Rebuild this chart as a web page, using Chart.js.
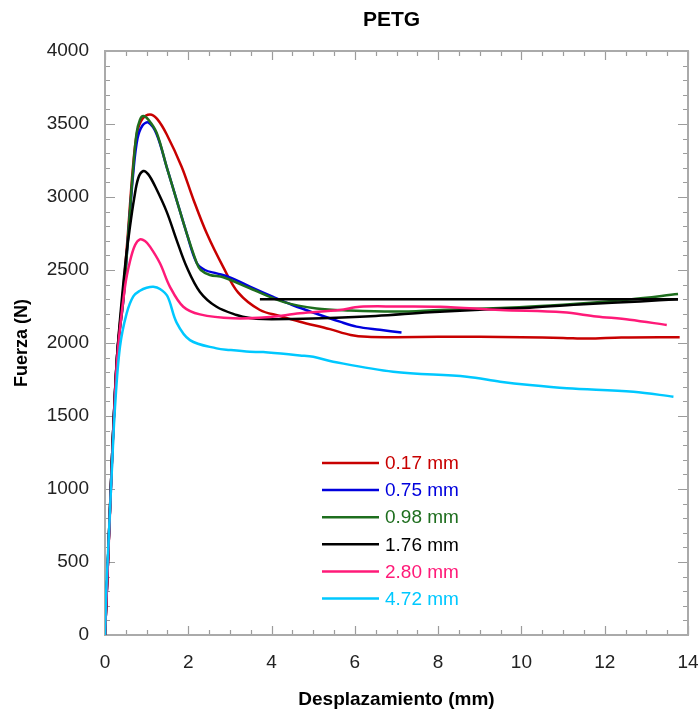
<!DOCTYPE html>
<html lang="es">
<head>
<meta charset="utf-8">
<title>PETG</title>
<script src="https://cdn.jsdelivr.net/npm/chart.js@4.4.1/dist/chart.umd.min.js"></script>
<style>
  html, body { margin: 0; padding: 0; background: #fff; }
  #wrap { width: 700px; height: 715px; }
</style>
</head>
<body>
<div id="wrap"><canvas id="petgChart" width="700" height="715"></canvas></div>
<script>
// Values (desplazamiento in mm, fuerza in N)
const seriesNames = ['0.17 mm', '0.75 mm', '0.98 mm', '1.76 mm', '2.80 mm', '4.72 mm'];

const x017 = [0, 0.05, 0.1, 0.15, 0.2, 0.3, 0.43, 0.55, 0.67, 0.77, 0.9, 1.08, 1.25, 1.48, 1.84, 2.12, 2.44, 2.84, 3.2, 3.72, 4.2, 4.68, 5.4, 5.9, 6.3, 7, 8, 9, 10, 11, 11.6, 12.4, 13.8];
const y017 = [0, 350, 720, 1080, 1420, 1950, 2330, 2750, 3200, 3440, 3535, 3565, 3535, 3430, 3207, 2985, 2753, 2520, 2345, 2226, 2185, 2146, 2095, 2055, 2042, 2040, 2042, 2042, 2040, 2035, 2030, 2038, 2040];

const x075 = [0, 0.05, 0.1, 0.15, 0.2, 0.3, 0.44, 0.56, 0.68, 0.78, 0.9, 1.04, 1.24, 1.48, 1.72, 1.96, 2.2, 2.4, 2.68, 3.0, 3.48, 4.04, 4.5, 5.08, 5.64, 6.04, 6.6, 7.12];
const y075 = [0, 350, 720, 1080, 1420, 1950, 2294, 2745, 3170, 3400, 3490, 3510, 3430, 3207, 2979, 2753, 2550, 2500, 2477, 2450, 2386, 2315, 2260, 2200, 2146, 2112, 2090, 2072];

const x098 = [0, 0.05, 0.1, 0.15, 0.2, 0.3, 0.44, 0.56, 0.68, 0.76, 0.84, 0.92, 1.04, 1.24, 1.48, 1.72, 1.96, 2.2, 2.3, 2.52, 2.84, 3.48, 4.28, 5.08, 5.88, 7.0, 8.05, 9.5, 11.0, 12.6, 13.76];
const y098 = [0, 350, 720, 1080, 1420, 1950, 2294, 2753, 3207, 3440, 3530, 3555, 3530, 3440, 3207, 2979, 2753, 2550, 2500, 2466, 2450, 2375, 2282, 2236, 2222, 2215, 2226, 2240, 2262, 2298, 2335];

const x176 = [0, 0.05, 0.1, 0.15, 0.2, 0.3, 0.48, 0.6, 0.7, 0.8, 0.92, 1.04, 1.2, 1.48, 1.72, 1.96, 2.28, 2.68, 3.16, 3.48, 3.8, 4.5, 5.4, 6.5, 7.8, 9.0, 10.2, 11.5, 12.85, 13.76];
const y176 = [0, 350, 720, 1080, 1420, 1950, 2522, 2797, 2990, 3130, 3178, 3155, 3075, 2900, 2705, 2522, 2350, 2248, 2192, 2171, 2164, 2165, 2171, 2185, 2210, 2228, 2242, 2265, 2285, 2300];
// the 1.76 mm record runs back along a flat line at the end
const x176back = [13.76, 3.72];
const y176back = [2300, 2300];

const x280 = [0, 0.05, 0.1, 0.15, 0.2, 0.3, 0.48, 0.6, 0.72, 0.84, 0.96, 1.08, 1.32, 1.56, 1.88, 2.28, 3.08, 3.88, 4.68, 5.64, 6.12, 7.0, 8.05, 9.5, 11.0, 11.8, 12.6, 13.49];
const y280 = [0, 340, 700, 1050, 1390, 1920, 2385, 2560, 2670, 2710, 2698, 2660, 2546, 2385, 2248, 2196, 2169, 2176, 2203, 2226, 2248, 2250, 2248, 2226, 2210, 2182, 2160, 2123];

const x472 = [0, 0.03, 0.08, 0.16, 0.24, 0.36, 0.52, 0.68, 0.85, 1.0, 1.16, 1.32, 1.5, 1.72, 2.04, 2.68, 3.0, 3.48, 3.8, 4.68, 5.0, 5.48, 6.92, 8.69, 9.49, 10.2, 11.09, 12.69, 13.65];
const y472 = [0, 300, 605, 1100, 1560, 1975, 2203, 2320, 2360, 2378, 2385, 2370, 2320, 2140, 2020, 1963, 1952, 1940, 1938, 1915, 1906, 1872, 1803, 1769, 1735, 1712, 1690, 1666, 1632];

const xTicks = [0, 2, 4, 6, 8, 10, 12, 14];
const yTicks = [0, 500, 1000, 1500, 2000, 2500, 3000, 3500, 4000];

const colors = ['#c80000', '#0000dd', '#1e6e1e', '#000000', '#ff1a78', '#00c8ff'];
const FONT = '"Liberation Sans", Arial, sans-serif';

function pts(xs, ys) {
    return xs.map((v, i) => ({ x: v, y: ys[i] }));
}

const seriesX = [x017, x075, x098, x176, x280, x472];
const seriesY = [y017, y075, y098, y176, y280, y472];

const datasets = seriesNames.map((name, i) => ({
    label: name,
    data: pts(seriesX[i], seriesY[i]),
    borderColor: colors[i],
    borderWidth: 2.5,
    pointRadius: 0,
    showLine: true,
    tension: 0.35,
    order: 6 - i
}));
datasets.push({
    label: '1.76 mm',
    data: pts(x176back, y176back),
    borderColor: colors[3],
    borderWidth: 2.5,
    pointRadius: 0,
    showLine: true,
    tension: 0,
    order: 3
});

// frame, inward ticks, titles and legend
const decor = {
    id: 'decor',
    beforeDatasetsDraw(chart) {
        const { ctx, chartArea: a, scales: { x, y } } = chart;
        ctx.save();
        ctx.strokeStyle = '#9c9c9c';
        ctx.lineWidth = 1.2;
        ctx.beginPath();
        for (let v = 0; v <= 14.001; v += 0.5) {
            const px = Math.round(x.getPixelForValue(v)) + 0.5;
            const len = xTicks.includes(Math.round(v * 10) / 10) ? 9 : 5;
            ctx.moveTo(px, a.bottom); ctx.lineTo(px, a.bottom - len);
            ctx.moveTo(px, a.top); ctx.lineTo(px, a.top + len);
        }
        for (let v = 0; v <= 4000; v += 100) {
            const py = Math.round(y.getPixelForValue(v)) + 0.5;
            const len = yTicks.includes(v) ? 10 : 5;
            ctx.moveTo(a.left, py); ctx.lineTo(a.left + len, py);
            ctx.moveTo(a.right, py); ctx.lineTo(a.right - len, py);
        }
        ctx.stroke();
        ctx.lineWidth = 2;
        ctx.strokeStyle = '#aaaaaa';
        ctx.strokeRect(a.left, a.top, a.right - a.left, a.bottom - a.top);
        ctx.restore();
    },
    afterDraw(chart) {
        const { ctx, chartArea: a } = chart;
        ctx.save();
        ctx.fillStyle = '#000';
        ctx.textAlign = 'center';
        ctx.textBaseline = 'middle';
        ctx.font = 'bold 21px ' + FONT;
        ctx.fillText('PETG', (a.left + a.right) / 2 - 5, 20);
        ctx.font = 'bold 19px ' + FONT;
        ctx.fillText('Desplazamiento (mm)', (a.left + a.right) / 2, 700);
        ctx.save();
        ctx.translate(22, (a.top + a.bottom) / 2);
        ctx.rotate(-Math.PI / 2);
        ctx.font = 'bold 18px ' + FONT;
        ctx.fillText('Fuerza (N)', 0, 0);
        ctx.restore();

        // legend
        ctx.textAlign = 'left';
        ctx.font = '19px ' + FONT;
        seriesNames.forEach((name, i) => {
            const ly = a.top + 412 + i * 27.1;
            ctx.strokeStyle = colors[i];
            ctx.lineWidth = 2.5;
            ctx.beginPath();
            ctx.moveTo(a.left + 217, ly);
            ctx.lineTo(a.left + 274, ly);
            ctx.stroke();
            ctx.fillStyle = colors[i];
            ctx.fillText(name, a.left + 280, ly + 1);
        });
        ctx.restore();
    }
};

new Chart(document.getElementById('petgChart'), {
    type: 'scatter',
    data: { datasets: datasets },
    options: {
        responsive: false,
        animation: false,
        layout: { padding: { top: 51, right: 12, left: 0, bottom: 0 } },
        plugins: {
            legend: { display: false },
            title: { display: false },
            tooltip: { enabled: false }
        },
        scales: {
            x: {
                type: 'linear',
                min: 0,
                max: 14,
                afterBuildTicks: s => { s.ticks = xTicks.map(v => ({ value: v })); },
                afterFit: s => { s.height = 80; s.paddingLeft = 0; s.paddingRight = 0; },
                grid: { display: false, drawTicks: false },
                border: { display: false },
                ticks: {
                    padding: 16,
                    color: '#222',
                    callback: v => String(v),
                    font: { family: FONT, size: 19 }
                }
            },
            y: {
                type: 'linear',
                min: 0,
                max: 4000,
                afterBuildTicks: s => { s.ticks = yTicks.map(v => ({ value: v })); },
                afterFit: s => { s.width = 105; s.paddingTop = 0; s.paddingBottom = 0; },
                grid: { display: false, drawTicks: false },
                border: { display: false },
                ticks: {
                    padding: 16,
                    color: '#222',
                    callback: v => String(v),
                    font: { family: FONT, size: 19 }
                }
            }
        }
    },
    plugins: [decor]
});
</script>
</body>
</html>
